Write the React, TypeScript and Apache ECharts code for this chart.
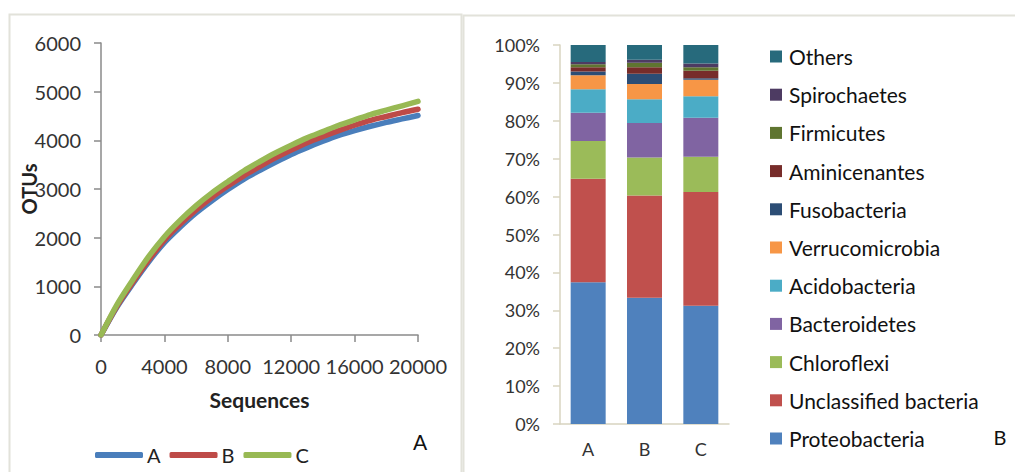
import React, { useEffect, useRef } from "react";
import * as echarts from "echarts";

// Rarefaction curves (panel A)
const sequences = [0, 1000, 2000, 3000, 4000, 5000, 6000, 7000, 8000, 9000, 10000, 11000, 12000, 13000, 14000, 15000, 16000, 17000, 18000, 19000, 20000];
const otusA = [0, 570, 1050, 1500, 1900, 2220, 2510, 2760, 2990, 3200, 3380, 3550, 3710, 3850, 3980, 4100, 4200, 4290, 4370, 4440, 4510];
const otusB = [0, 590, 1080, 1540, 1950, 2280, 2570, 2830, 3060, 3270, 3460, 3640, 3800, 3950, 4080, 4200, 4310, 4410, 4490, 4570, 4640];
const otusC = [0, 620, 1130, 1610, 2020, 2360, 2660, 2920, 3150, 3370, 3560, 3740, 3900, 4050, 4180, 4310, 4420, 4530, 4620, 4710, 4800];
const curveNames = ["A", "B", "C"];
const curveColors = ["#4A7EBB", "#BE4B48", "#98B954"];

// Relative abundance (panel B), percent per sample
const samples = ["A", "B", "C"];
const phyla = [
  "Proteobacteria",
  "Unclassified bacteria",
  "Chloroflexi",
  "Bacteroidetes",
  "Acidobacteria",
  "Verrucomicrobia",
  "Fusobacteria",
  "Aminicenantes",
  "Firmicutes",
  "Spirochaetes",
  "Others",
];
const proteobacteria = [37.4, 33.3, 31.2];
const unclassified = [27.3, 27.0, 30.0];
const chloroflexi = [10.0, 10.0, 9.3];
const bacteroidetes = [7.4, 9.1, 10.3];
const acidobacteria = [6.2, 6.3, 5.7];
const verrucomicrobia = [3.7, 4.0, 4.3];
const fusobacteria = [1.0, 2.7, 0.4];
const aminicenantes = [1.1, 1.7, 2.0];
const firmicutes = [0.8, 1.2, 0.9];
const spirochaetes = [0.6, 0.8, 1.0];
const others = [4.5, 3.9, 4.9];
const phylaValues = [
  proteobacteria,
  unclassified,
  chloroflexi,
  bacteroidetes,
  acidobacteria,
  verrucomicrobia,
  fusobacteria,
  aminicenantes,
  firmicutes,
  spirochaetes,
  others,
];
const phylaColors = [
  "#4F81BD",
  "#C0504D",
  "#9BBB59",
  "#8064A2",
  "#4BACC6",
  "#F79646",
  "#2C4D75",
  "#772C2A",
  "#5F7530",
  "#4D3B62",
  "#276A7C",
];

const FONT = "Lato";

export default function App() {
  const ref = useRef<HTMLDivElement>(null);
  useEffect(() => {
    if (!ref.current) return;
    const chart = echarts.init(ref.current, undefined, { renderer: "svg" });
    const curves = [otusA, otusB, otusC];
    const plain = (v: number) => String(v);
    const option: any = {
      animation: false,
      backgroundColor: "#ffffff",
      textStyle: { fontFamily: FONT },
      grid: [
        { left: 101, top: 43, width: 317, height: 292, containLabel: false },
        { left: 560, top: 45, width: 169, height: 379, containLabel: false },
      ],
      xAxis: [
        {
          gridIndex: 0,
          type: "value",
          min: 0,
          max: 20000,
          interval: 4000,
          name: "Sequences",
          nameLocation: "middle",
          nameGap: 54,
          nameTextStyle: { fontFamily: FONT, fontSize: 21, fontWeight: "bold", color: "#222" },
          axisLine: { show: true, lineStyle: { color: "#8a8a8a", width: 1.5 } },
          axisTick: { show: true, length: 7, lineStyle: { color: "#8a8a8a", width: 1.5 } },
          axisLabel: { fontFamily: FONT, fontSize: 20, color: "#333", margin: 21, formatter: plain },
          splitLine: { show: false },
        },
        {
          gridIndex: 1,
          type: "category",
          data: samples,
          axisLine: { show: true, lineStyle: { color: "#d8d4c0", width: 1.5 } },
          axisTick: { show: false },
          axisLabel: { fontFamily: FONT, fontSize: 18, color: "#333", margin: 16 },
          splitLine: { show: false },
        },
      ],
      yAxis: [
        {
          gridIndex: 0,
          type: "value",
          min: 0,
          max: 6000,
          interval: 1000,
          name: "OTUs",
          nameLocation: "middle",
          nameRotate: 90,
          nameGap: 62,
          nameMoveOverlap: false,
          nameTextStyle: { fontFamily: FONT, fontSize: 20, fontWeight: "bold", color: "#222" },
          axisLine: { show: true, lineStyle: { color: "#8a8a8a", width: 1.5 } },
          axisTick: { show: true, length: 7, lineStyle: { color: "#8a8a8a", width: 1.5 } },
          axisLabel: { fontFamily: FONT, fontSize: 20, color: "#333", margin: 20, formatter: plain },
          splitLine: { show: false },
        },
        {
          gridIndex: 1,
          type: "value",
          min: 0,
          max: 100,
          interval: 10,
          axisLine: { show: true, lineStyle: { color: "#d8d4c0", width: 1.5 } },
          axisTick: { show: true, length: 7, lineStyle: { color: "#d8d4c0", width: 1.5 } },
          axisLabel: { fontFamily: FONT, fontSize: 18, color: "#333", margin: 20, formatter: "{value}%" },
          splitLine: { show: false },
        },
      ],
      legend: [
        {
          data: curveNames,
          left: 90,
          top: 440,
          orient: "horizontal",
          icon: "roundRect",
          itemWidth: 48,
          itemHeight: 6,
          itemGap: 9,
          selectedMode: false,
          textStyle: { fontFamily: FONT, fontSize: 20, color: "#222", padding: [0, 0, 0, -1] },
        },
        {
          data: phyla.slice().reverse(),
          left: 765,
          top: 41,
          orient: "vertical",
          icon: "rect",
          itemWidth: 12,
          itemHeight: 12,
          itemGap: 17.2,
          selectedMode: false,
          textStyle: { fontFamily: FONT, fontSize: 21, color: "#111", lineHeight: 21, padding: [0, 0, 0, 2] },
        },
      ],
      graphic: [
        {
          type: "rect",
          shape: { x: 9.5, y: 14.5, width: 452, height: 480 },
          style: { fill: "none", stroke: "#e2e2da", lineWidth: 2 },
          silent: true,
          z: -10,
        },
        {
          type: "rect",
          shape: { x: 463.5, y: 15.5, width: 560, height: 480 },
          style: { fill: "none", stroke: "#e2e2da", lineWidth: 2 },
          silent: true,
          z: -10,
        },
        {
          type: "text",
          x: 420,
          y: 441,
          style: { text: "A", font: `21px ${FONT}`, fill: "#111", align: "center", verticalAlign: "middle" },
        },
        {
          type: "text",
          x: 1000,
          y: 437,
          style: { text: "B", font: `20px ${FONT}`, fill: "#111", align: "center", verticalAlign: "middle" },
        },
      ],
      series: [
        ...curves.map((vals, i) => ({
          name: curveNames[i],
          type: "line",
          xAxisIndex: 0,
          yAxisIndex: 0,
          smooth: 0.3,
          showSymbol: false,
          symbol: "none",
          color: curveColors[i],
          lineStyle: { width: 5.5, color: curveColors[i], cap: "round" },
          data: sequences.map((s, j) => [s, vals[j]]),
          z: 2 + i,
        })),
        ...phyla.map((p, i) => ({
          name: p,
          type: "bar",
          stack: "phyla",
          xAxisIndex: 1,
          yAxisIndex: 1,
          barWidth: 35,
          color: phylaColors[i],
          itemStyle: { color: phylaColors[i] },
          data: phylaValues[i],
        })),
      ],
    };
    chart.setOption(option);
    return () => chart.dispose();
  }, []);
  return (
    <div
      ref={ref}
      style={{ position: "fixed", left: 0, top: 0, width: 1015, height: 472, background: "#fff" }}
    />
  );
}
